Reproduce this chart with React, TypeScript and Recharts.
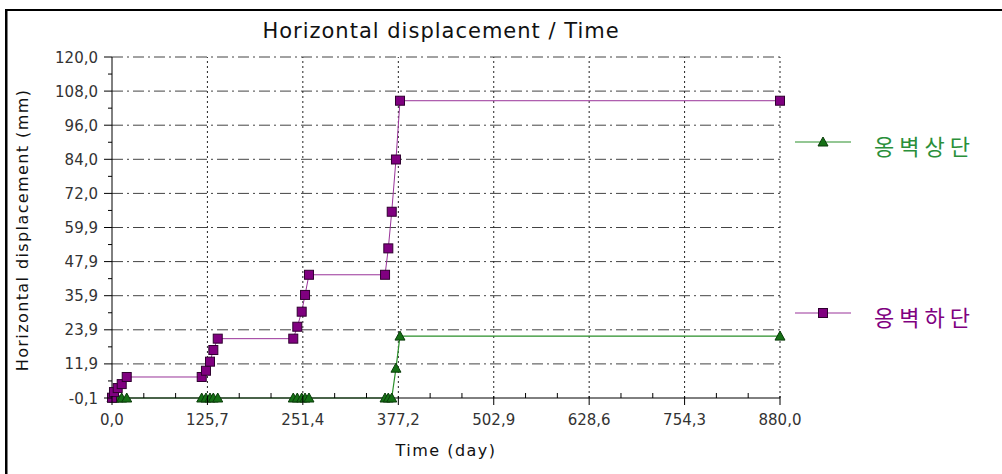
import React from 'react';
import { LineChart, Line, XAxis, YAxis, ReferenceLine } from 'recharts';

// elapsed time (day) of each reading
const days = [0, 2.6, 7.5, 12.8, 19.4, 118.2, 123.8, 129.1, 133.5, 139.3, 238.8, 244.1, 249.9, 254.3, 259.5, 359.7, 364.0, 368.5, 374.1, 379.4, 880.0];
// 옹벽상단 (top of wall), mm
const upper = [-0.1, -0.1, -0.1, -0.1, -0.1, -0.1, -0.1, -0.1, -0.1, -0.1, -0.1, -0.1, -0.1, -0.1, -0.1, -0.1, -0.1, -0.1, 10.4, 21.7, 21.7];
// 옹벽하단 (bottom of wall), mm
const lower = [0.0, 2.0, 3.4, 4.8, 7.3, 7.3, 9.5, 12.7, 16.8, 20.8, 20.8, 25.0, 30.3, 36.2, 43.3, 43.3, 52.6, 65.5, 83.9, 104.6, 104.6];

const xTicks = [0, 125.7, 251.4, 377.2, 502.9, 628.6, 754.3, 880.0];
const xTickLabels = ['0,0', '125,7', '251,4', '377,2', '502,9', '628,6', '754,3', '880,0'];
const yTicks = [-0.1, 11.91, 23.92, 35.93, 47.94, 59.95, 71.96, 83.97, 95.98, 107.99, 120.0];
const yTickLabels = ['-0,1', '11,9', '23,9', '35,9', '47,9', '59,9', '72,0', '84,0', '96,0', '108,0', '120,0'];

const rows = days.map((t, i) => ({ t, upper: upper[i], lower: lower[i] }));

// minor ticks: thirds on x, halves on y
const xMinor: number[] = [];
for (let i = 0; i < xTicks.length - 1; i++) {
  const step = (xTicks[i + 1] - xTicks[i]) / 3;
  xMinor.push(xTicks[i] + step, xTicks[i] + 2 * step);
}
const yMinor: number[] = [];
for (let i = 0; i < yTicks.length - 1; i++) yMinor.push((yTicks[i] + yTicks[i + 1]) / 2);

const xAll = [...xTicks, ...xMinor].sort((a, b) => a - b);
const yAll = [...yTicks, ...yMinor].sort((a, b) => a - b);

const FONT = "'DejaVu Sans', sans-serif";
const KFONT = "'Noto Sans CJK KR', sans-serif";
const PURPLE = '#800080';

const majorIndex = (list: number[], v: number) => list.findIndex((t) => Math.abs(t - v) < 1e-6);

const XTick = (p: any) => {
  const i = majorIndex(xTicks, p.payload.value);
  if (i < 0) {
    return <line x1={p.x} x2={p.x} y1={p.y - 5} y2={p.y} stroke="#000" />;
  }
  return (
    <g>
      <line x1={p.x} x2={p.x} y1={p.y - 2} y2={p.y + 7} stroke="#000" />
      <text x={p.x} y={p.y + 27} textAnchor="middle" fontSize={15} fontFamily={FONT} fill="#333">
        {xTickLabels[i]}
      </text>
    </g>
  );
};

const YTick = (p: any) => {
  const i = majorIndex(yTicks, p.payload.value);
  if (i < 0) {
    return <line x1={p.x - 4} x2={p.x} y1={p.y} y2={p.y} stroke="#000" />;
  }
  return (
    <g>
      <line x1={p.x - 8} x2={p.x} y1={p.y} y2={p.y} stroke="#000" />
      <text x={p.x - 14} y={p.y + 5.5} textAnchor="end" fontSize={15} fontFamily={FONT} fill="#333">
        {yTickLabels[i]}
      </text>
    </g>
  );
};

const Square = (p: any) => (
  <rect key={`sq-${p.index}`} x={p.cx - 4.5} y={p.cy - 4.5} width={9} height={9} fill={PURPLE} stroke="#300030" strokeWidth={1} />
);

const Triangle = (p: any) => (
  <path
    key={`tr-${p.index}`}
    d={`M${p.cx - 5},${p.cy + 4} L${p.cx},${p.cy - 5} L${p.cx + 5},${p.cy + 4} Z`}
    fill="#157015"
    stroke="#0b3d0b"
    strokeWidth={1}
  />
);

const App: React.FC = () => {
  return (
    <div style={{ position: 'fixed', left: 0, top: 0, width: 1002, height: 474, background: '#fff', overflow: 'hidden', fontFamily: FONT }}>
      <div style={{ position: 'absolute', left: 0, top: 0 }}>
        <LineChart width={1002} height={474} data={rows} margin={{ top: 57, right: 222, bottom: 46, left: 62 }}>
          {yTicks.slice(1).map((v) => (
            <ReferenceLine key={`gy-${v}`} y={v} stroke="#444" strokeDasharray="11 4 2 4" />
          ))}
          {xTicks.slice(1).map((v) => (
            <ReferenceLine key={`gx-${v}`} x={v} stroke="#222" strokeDasharray="2 3" />
          ))}
          <XAxis
            dataKey="t"
            type="number"
            domain={[0, 880]}
            ticks={xAll}
            interval={0}
            height={30}
            tickSize={0}
            tickMargin={0}
            tickLine={false}
            axisLine={{ stroke: '#000' }}
            tick={(p: any) => <XTick key={`xt-${p.index}`} {...p} />}
          />
          <YAxis
            type="number"
            domain={[-0.1, 120]}
            ticks={yAll}
            interval={0}
            width={50}
            tickSize={0}
            tickMargin={0}
            tickLine={false}
            axisLine={{ stroke: '#000' }}
            tick={(p: any) => <YTick key={`yt-${p.index}`} {...p} />}
          />
          <Line
            type="linear"
            dataKey="upper"
            stroke="#2a8f2a"
            strokeWidth={1.2}
            dot={Triangle}
            activeDot={false}
            isAnimationActive={false}
          />
          <Line
            type="linear"
            dataKey="lower"
            stroke="#993399"
            strokeWidth={1}
            dot={Square}
            activeDot={false}
            isAnimationActive={false}
          />
        </LineChart>
      </div>

      <div style={{ position: 'absolute', left: 0, width: 882, top: 19, textAlign: 'center', fontSize: 21, letterSpacing: 1, color: '#111', lineHeight: '24px' }}>
        Horizontal displacement / Time
      </div>
      <div
        style={{
          position: 'absolute',
          left: 22,
          top: 230,
          transform: 'translate(-50%, -50%) rotate(-90deg)',
          whiteSpace: 'nowrap',
          fontSize: 16,
          letterSpacing: 1.4,
          color: '#111',
        }}
      >
        Horizontal displacement (mm)
      </div>
      <div style={{ position: 'absolute', left: 346, width: 200, top: 440, textAlign: 'center', fontSize: 16, letterSpacing: 1.5, color: '#111', lineHeight: '22px' }}>
        Time (day)
      </div>

      {/* legend */}
      <svg style={{ position: 'absolute', left: 790, top: 130 }} width={70} height={200}>
        <line x1={5} x2={61} y1={12} y2={12} stroke="#2a8f2a" strokeWidth={1.2} />
        <path d="M28,16 L33,7 L38,16 Z" fill="#157015" stroke="#0b3d0b" />
        <line x1={5} x2={61} y1={183} y2={183} stroke="#993399" />
        <rect x={28.5} y={178.5} width={9} height={9} fill={PURPLE} stroke="#300030" />
      </svg>
      <div style={{ position: 'absolute', left: 874, top: 130, fontFamily: KFONT, fontSize: 22, letterSpacing: 5, color: '#2a8f3a', lineHeight: '30px' }}>
        옹벽상단
      </div>
      <div style={{ position: 'absolute', left: 874, top: 301, fontFamily: KFONT, fontSize: 22, letterSpacing: 5, color: PURPLE, lineHeight: '30px' }}>
        옹벽하단
      </div>

      {/* outer frame: top and left edges */}
      <svg style={{ position: 'absolute', left: 0, top: 0, pointerEvents: 'none' }} width={1002} height={474}>
        <line x1={5} x2={1002} y1={10} y2={10} stroke="#000" strokeWidth={2} />
        <rect x={5} y={9} width={2.5} height={465} fill="#000" />
      </svg>
    </div>
  );
};

export default App;
